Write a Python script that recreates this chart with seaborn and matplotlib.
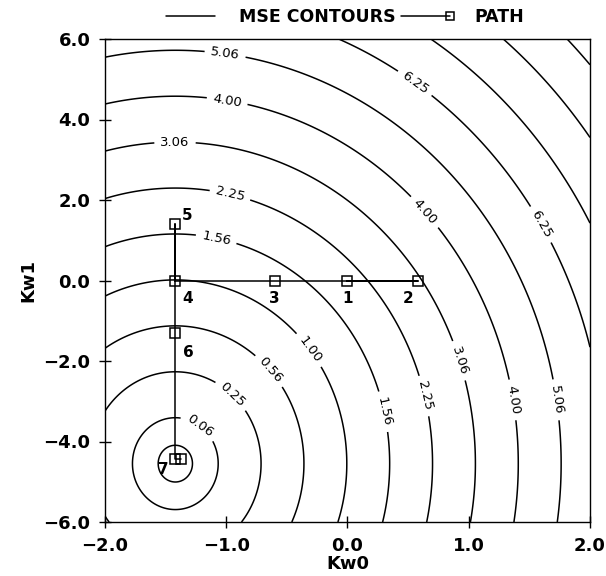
import numpy as np
import pandas as pd
import matplotlib
matplotlib.use("Agg")
import matplotlib.pyplot as plt
from matplotlib.lines import Line2D
from matplotlib.legend_handler import HandlerLine2D
import seaborn as sns

# ---- data ----
# MSE surface parameters (quadratic bowl)
mse_center_w0 = -1.42
mse_center_w1 = -4.55
mse_coef_w0 = 0.5
mse_coef_w1 = 0.048
labeled_levels = [0.0625, 0.25, 0.5625, 1.0, 1.5625, 2.25, 3.0625, 4.0, 5.0625, 6.25]
unlabeled_levels = [0.01, 7.5625, 9.0, 10.5625]

path_w0 = [0.0, 0.58, -0.60, -1.42, -1.42, -1.42, -1.42, -1.37]
path_w1 = [0.0, 0.0, 0.0, 0.0, 1.40, -1.31, -4.43, -4.43]
path_labels = ["1", "2", "3", "4", "5", "6", "7", ""]

x_ticks = [-2.0, -1.0, 0.0, 1.0, 2.0]
y_ticks = [-6.0, -4.0, -2.0, 0.0, 2.0, 4.0, 6.0]

# ---- layout ----
sns.set_style("ticks")
plt.rcParams["font.family"] = ["DejaVu Sans"]
plt.rcParams.update({"text.color": "black", "axes.labelcolor": "black",
                     "xtick.color": "black", "ytick.color": "black",
                     "axes.edgecolor": "black"})

fig = plt.figure(figsize=(6.06, 5.76), dpi=100)
ax = fig.add_axes([105 / 606, 1 - 522 / 576, 485 / 606, 483 / 576])

w0 = np.linspace(-2.0, 2.0, 400)
w1 = np.linspace(-6.0, 6.0, 400)
W0, W1 = np.meshgrid(w0, w1)
Z = mse_coef_w0 * (W0 - mse_center_w0) ** 2 + mse_coef_w1 * (W1 - mse_center_w1) ** 2

ax.contour(W0, W1, Z, levels=unlabeled_levels, colors="black", linewidths=1.1)
cs = ax.contour(W0, W1, Z, levels=labeled_levels, colors="black", linewidths=1.1)

def px2data(px, py):
    return ((px - 105) / 121.25 - 2.0, (522 - py) / 40.25 - 6.0)

label_pixels = [
    (225, 55), (555, 400),
    (227, 102), (427, 210), (512, 400),
    (175, 143), (455, 362),
    (230, 195), (420, 397),
    (216, 240), (382, 412),
    (320, 342),
    (268, 372),
    (230, 397),
    (195, 432),
    (415, 83), (540, 225),
]
manual = [px2data(*p) for p in label_pixels]
ax.clabel(cs, fmt="%.2f", inline=True, inline_spacing=6, fontsize=9.5, manual=manual)

df = pd.DataFrame({"Kw0": path_w0, "Kw1": path_w1, "step": range(len(path_w0))})
sns.lineplot(data=df, x="Kw0", y="Kw1", sort=False, ax=ax, color="black",
             linewidth=1.1, marker="s", markersize=6.5, markerfacecolor="none",
             markeredgecolor="black", markeredgewidth=1.1, estimator=None)

offsets = [(0, -18), (-10, -18), (0, -18), (12, -18), (12, 9), (13, -19), (-12, -11), (0, 0)]
for xv, yv, lab, off in zip(path_w0, path_w1, path_labels, offsets):
    if lab:
        ax.annotate(lab, (xv, yv), xytext=off, textcoords="offset pixels",
                    ha="center", va="center", fontsize=11, fontweight="bold",
                    color="black")

ax.set_xlim(-2.0, 2.0)
ax.set_ylim(-6.0, 6.0)
ax.set_xticks(x_ticks)
ax.set_yticks(y_ticks)
ax.set_xticklabels([f"{v:.1f}".replace("-", "\u2212") for v in x_ticks])
ax.set_yticklabels([f"{v:.1f}".replace("-", "\u2212") for v in y_ticks])
ax.tick_params(direction="inout", length=9, width=1.0, labelsize=13, pad=6,
               color="black", labelcolor="black")
for lab in ax.get_xticklabels() + ax.get_yticklabels():
    lab.set_fontweight("bold")
for s in ax.spines.values():
    s.set_visible(True)
    s.set_color("black")
    s.set_linewidth(1.0)
ax.set_xlabel("Kw0", fontsize=13, fontweight="bold", labelpad=0, color="black")
ax.set_ylabel("Kw1", fontsize=13, fontweight="bold", labelpad=4, color="black")


class EndMarkerHandler(HandlerLine2D):
    def create_artists(self, *args, **kwargs):
        artists = super().create_artists(*args, **kwargs)
        for a in artists:
            if isinstance(a, Line2D):
                a.set_markevery([2])
        return artists


h_cont = Line2D([], [], color="black", linewidth=1.1)
h_path = Line2D([], [], color="black", linewidth=1.1, marker="s", markersize=6,
                markerfacecolor="none", markeredgewidth=1.1)
leg = fig.legend([h_cont, h_path], ["MSE CONTOURS", "PATH"], ncol=2, frameon=False,
                 loc="center", bbox_to_anchor=(345 / 606, 1 - 17 / 576),
                 prop={"weight": "bold", "size": 12.5}, handlelength=2.8,
                 handletextpad=1.4, columnspacing=0.3, numpoints=1,
                 handler_map={h_path: EndMarkerHandler()})
for t in leg.get_texts():
    t.set_color("black")

fig.savefig("out.png", dpi=100)
